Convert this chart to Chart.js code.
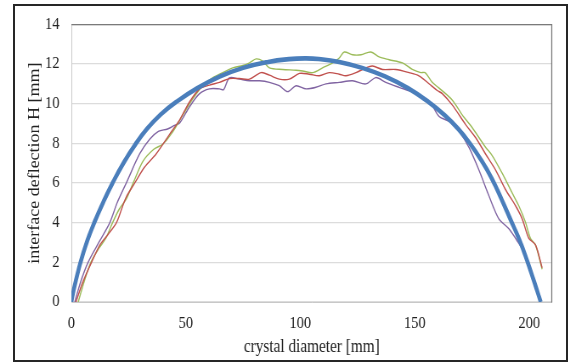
<!DOCTYPE html>
<html><head><meta charset="utf-8">
<script src="https://cdn.jsdelivr.net/npm/chart.js@4/dist/chart.umd.min.js"></script>
<style>
html,body{margin:0;padding:0;background:#fff;width:570px;height:364px;overflow:hidden;}
#wrap{position:absolute;left:0;top:0;width:671px;height:364px;transform:scaleX(0.8495);transform-origin:0 0;}
#frame{position:absolute;left:13px;top:4px;width:551px;height:354px;border:2px solid #262626;pointer-events:none;}
</style></head><body>
<div id="wrap"><canvas id="c" width="671" height="364"></canvas></div>
<div id="frame"></div>
<script>
const xTitle = "crystal diameter [mm]";
const yTitle = "interface deflection H [mm]";
const xTicks = [0, 50, 100, 150, 200];
const yTicks = [0, 2, 4, 6, 8, 10, 12, 14];

const blueX = [0,1,2,4,7,10,14,18,23,28,33,39,46,55,65,75,86,95,102,108,117,127,137,147,156,163,169,174,179,183.5,188,192,195.8,199,202.2,205];
const blueY = [0,0.6,1.1,2.0,3.1,4.0,5.05,6.0,7.05,7.95,8.72,9.45,10.1,10.78,11.37,11.8,12.1,12.24,12.28,12.25,12.1,11.8,11.37,10.78,10.08,9.42,8.72,8.0,7.15,6.25,5.15,4.1,3.1,2.1,1.0,0];

const redX = [2,5,8.8,12.6,16,19.7,22,24,27.7,32,37,42.9,47.3,51.6,56,60.3,64.7,69,73.4,77.8,82.9,86.5,90.8,95.2,99.6,103.9,108.3,112.6,117,119.9,124.3,128.6,131.5,135.9,141.7,147.5,151.8,156.2,159.8,162,166.4,172.2,176.6,180.9,185.3,189.6,194,196.9,199.8,202.7,205.6];
const redY = [0,1,2,2.9,3.4,4,4.7,5.3,6,6.8,7.46,8.45,9.18,10.08,10.74,10.93,11.07,11.26,11.26,11.23,11.56,11.43,11.23,11.23,11.52,11.48,11.4,11.56,11.48,11.4,11.56,11.8,11.89,11.72,11.72,11.56,11.4,11.0,10.66,10.5,9.92,8.94,8.28,7.46,6.65,5.67,4.85,4.19,3.21,2.88,1.73];

const greenX = [3,5.5,8.5,12,15,18,21,24,27,31.3,36,40,44.4,48.7,53.1,57.4,61.8,66.1,70.5,74.9,77.8,80.7,83.6,86.5,92.3,98.1,101,105.4,109.7,114.1,117,119.2,122.8,126.5,130.8,134.4,138.8,144.6,148.9,152.6,154.5,157.6,160.6,166.4,170.7,175.1,180.9,183.8,188.2,192.5,195.4,198.3,200.5,202.7,205.6];
const greenY = [0,1,2,2.7,3.2,4,4.7,5.2,6,7.1,7.7,7.96,8.6,9.43,10.25,10.9,11.31,11.56,11.8,11.92,12.05,12.25,12.14,11.8,11.72,11.68,11.64,11.56,11.8,12.05,12.3,12.6,12.46,12.46,12.6,12.35,12.21,12.05,11.72,11.56,11.56,11.07,10.78,10.17,9.43,8.78,7.8,7.38,6.48,5.5,4.85,4.03,3.21,2.88,1.65];

const purpleX = [1.5,4,7.3,12,16.8,20,24,29.8,34.2,38,42,45,47.3,51.6,56,60.3,64.7,66.5,69,73.4,77.8,82.2,86.5,90.8,94.5,98.1,102.5,106.8,111.2,117,122.8,128.6,133,137.3,143.1,148.9,154.8,157.6,160.6,165,169.3,173.6,178,182.4,186.7,191,195.4,198.3,201,203,205];
const purpleY = [0,1,2,3,4,5,6,7.46,8.2,8.6,8.72,8.9,9.02,9.84,10.5,10.74,10.74,10.7,11.3,11.23,11.15,11.15,11.07,10.9,10.6,10.9,10.74,10.82,10.99,11.07,11.15,10.99,11.31,11.07,10.82,10.59,10.25,9.9,9.35,9.1,8.6,7.8,6.65,5.34,4.19,3.7,2.96,2.4,1.4,0.7,0];

function pts(xs, ys){ return xs.map((x,i)=>({x:x, y:ys[i]})); }

const frame = {
  id:'frame',
  beforeDatasetsDraw(chart){
    const {ctx, chartArea:a} = chart;
    ctx.save();
    ctx.lineWidth = 1;
    ctx.strokeStyle = '#c8c8c8';
    ctx.beginPath();
    ctx.moveTo(a.left+0.5, a.top); ctx.lineTo(a.left+0.5, a.bottom+0.5); ctx.lineTo(a.right, a.bottom+0.5);
    ctx.stroke();
    ctx.strokeStyle = '#7a7a7a';
    ctx.lineWidth = 1.3;
    ctx.beginPath();
    ctx.moveTo(a.left, a.top+0.5); ctx.lineTo(a.right-0.5, a.top+0.5); ctx.lineTo(a.right-0.5, a.bottom+0.5);
    ctx.stroke();
    ctx.restore();
  }
};

const thin = 1.4;
new Chart(document.getElementById('c'), {
  type:'line',
  data:{ datasets:[
    {data:pts(blueX,blueY), borderColor:'#4a7ebb', borderWidth:4.6, pointRadius:0, tension:0.45},
    {data:pts(redX,redY), borderColor:'#c0504d', borderWidth:thin, pointRadius:0, tension:0.3},
    {data:pts(greenX,greenY), borderColor:'#9bbb59', borderWidth:thin, pointRadius:0, tension:0.3},
    {data:pts(purpleX,purpleY), borderColor:'#8064a2', borderWidth:thin, pointRadius:0, tension:0.3}
  ]},
  options:{
    responsive:false, animation:false, devicePixelRatio:1,
    layout:{padding:{top:17, right:21, left:0, bottom:0}},
    plugins:{legend:{display:false}, tooltip:{enabled:false}},
    scales:{
      x:{type:'linear', min:0, max:210,
        afterFit(s){ s.height = 62; },
        afterBuildTicks(s){ s.ticks = xTicks.map(v=>({value:v})); },
        grid:{display:false, drawTicks:false},
        border:{display:false},
        ticks:{padding:11, color:'#222', font:{family:'"Liberation Serif"', size:17}, maxRotation:0},
        title:{display:true, text:xTitle, color:'#222', font:{family:'"Liberation Serif"', size:18}, padding:{top:0, bottom:6}}
      },
      y:{min:0, max:14,
        afterFit(s){ s.width = 84; },
        afterBuildTicks(s){ s.ticks = yTicks.map(v=>({value:v})); },
        grid:{color:'#dcdcdc', lineWidth:1.2, drawTicks:false},
        border:{display:false},
        ticks:{padding:14, color:'#222', font:{family:'"Liberation Serif"', size:17}},
        title:{display:true, text:yTitle, color:'#222', font:{family:'"Liberation Serif"', size:18}, padding:{top:30, bottom:0}}
      }
    }
  },
  plugins:[frame]
});
</script>
</body></html>
